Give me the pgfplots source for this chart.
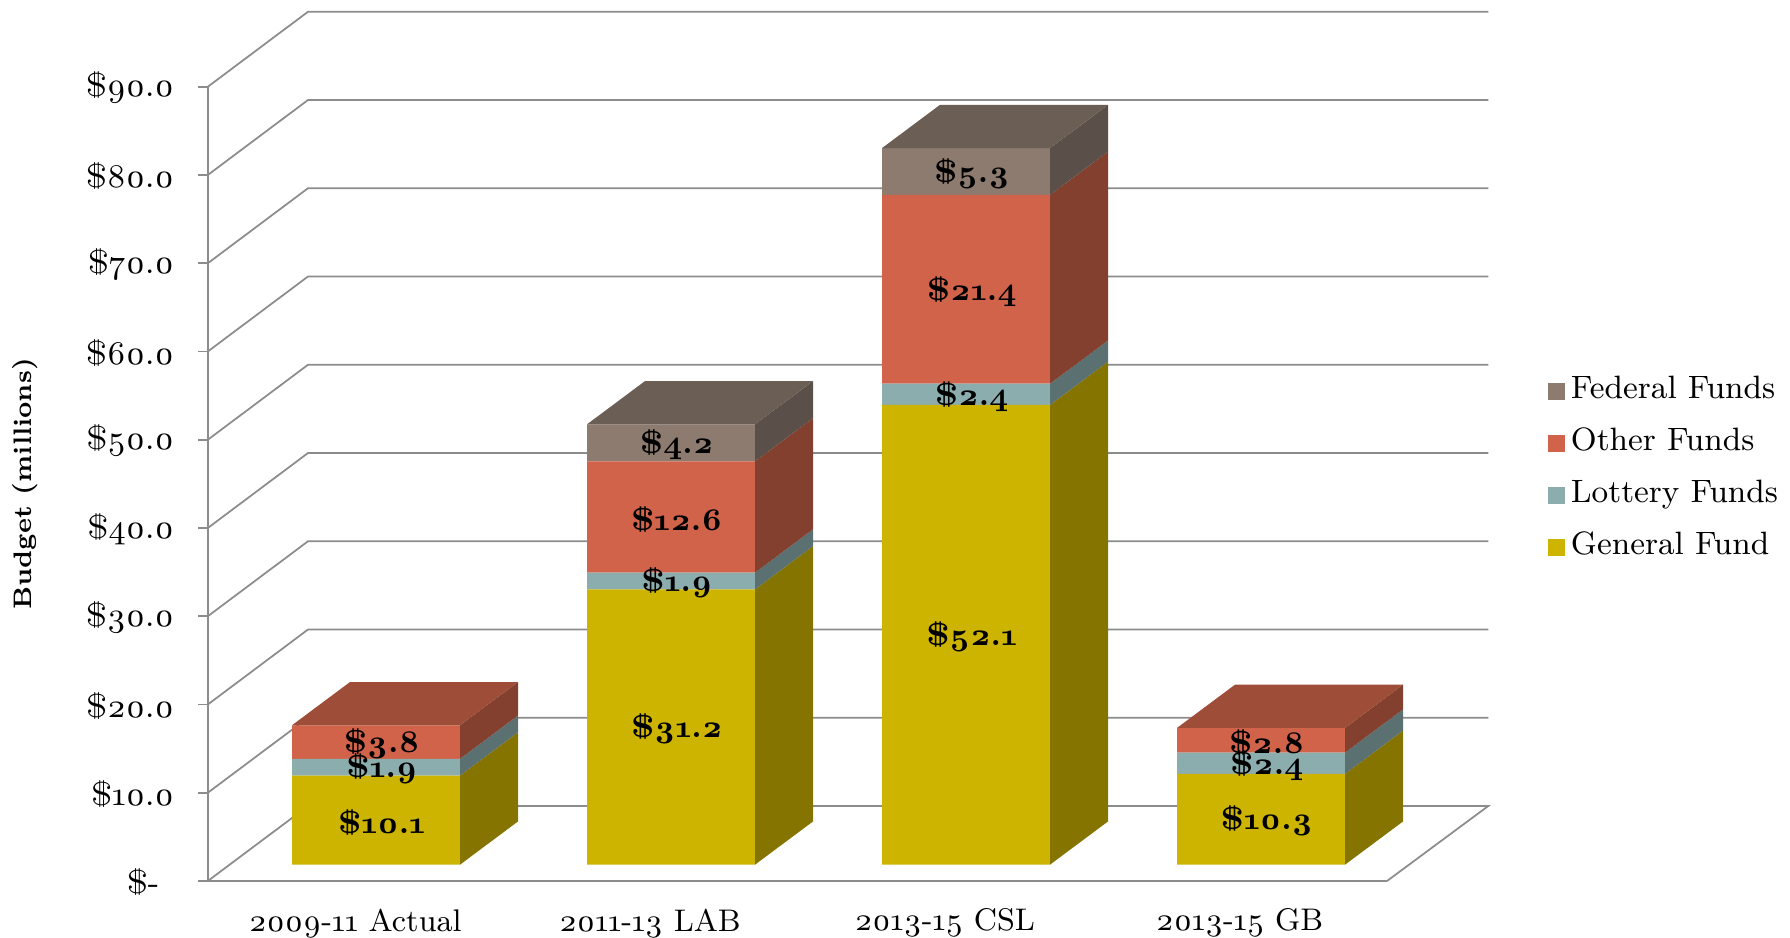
\documentclass[border=0pt]{standalone}
\usepackage{fontspec}
\setmainfont{Latin Modern Roman}[Numbers=OldStyle]
\usepackage{pgfplots}
\pgfplotsset{compat=1.18}
\definecolor{axgray}{HTML}{8C8C8C}
\definecolor{genF}{HTML}{CCB400}\definecolor{genS}{HTML}{857500}
\definecolor{lotF}{HTML}{8CADAE}\definecolor{lotS}{HTML}{5B7071}
\definecolor{othF}{HTML}{D1634A}\definecolor{othS}{HTML}{84402F}\definecolor{othT}{HTML}{9E4D38}
\definecolor{fedF}{HTML}{8C7B6E}\definecolor{fedS}{HTML}{5A5049}\definecolor{fedT}{HTML}{6B5E54}
\newcommand{\chartfont}{\fontsize{9.4}{11}\selectfont}
\newcommand{\legfont}{\fontsize{9.2}{11}\selectfont}
\newcommand{\xfont}{\fontsize{8.9}{11}\selectfont}
\newcommand{\datafont}{\fontsize{9}{11}\selectfont\bfseries}
\pgfplotsset{
  base/.style={width=117.92mm,height=79.43mm,scale only axis,clip=false,at={(0,0)},anchor=south west},
  wall/.style={axgray,line width=0.5pt,forget plot,mark=none},
  face/.style={fill=#1,draw=none,forget plot,mark=none},
  sw/.style={fill=#1,draw=none,legend image code/.code={\fill[#1] (0pt,-2.42pt) rectangle (4.84pt,2.42pt);}},
}
\begin{document}
\begin{tikzpicture}
% frame: walls, y axis, categories
\begin{axis}[base,
  xmin=-0.5,xmax=3.5,ymin=0,ymax=90,
  axis x line=bottom,axis y line=left,
  axis line style={-,axgray,line width=0.65pt},
  xtick={0,1,2,3},
  xticklabels={2009-11 Actual,2011-13 LAB,2013-15 CSL,2013-15 GB},
  ytick={0,10,20,30,40,50,60,70,80,90},
  yticklabels={\$-\rule{4.2pt}{0pt},\$10.0,\$20.0,\$30.0,\$40.0,\$50.0,\$60.0,\$70.0,\$80.0,\$90.0},
  tick align=outside,
  major tick length=2.7pt,
  xtick style={draw=none},
  ytick style={axgray,line width=0.55pt},
  tick label style={inner sep=0pt,outer sep=0pt},
  yticklabel style={font=\chartfont,xshift=-6.9pt,yshift=-0.3pt},
  xticklabel style={font=\xfont,yshift=-5.2pt},
  ylabel={\fontsize{7.2}{9}\selectfont\bfseries Budget (millions)},
  y label style={at={(axis description cs:-0.155,0.5)},anchor=center},
]
\addplot[wall] coordinates {(-0.5,0) (-0.16,8.5) (3.8436,8.5) (3.5,0)};
\addplot[wall] coordinates {(-0.5,10) (-0.16,18.5) (3.8436,18.5)};
\addplot[wall] coordinates {(-0.5,20) (-0.16,28.5) (3.8436,28.5)};
\addplot[wall] coordinates {(-0.5,30) (-0.16,38.5) (3.8436,38.5)};
\addplot[wall] coordinates {(-0.5,40) (-0.16,48.5) (3.8436,48.5)};
\addplot[wall] coordinates {(-0.5,50) (-0.16,58.5) (3.8436,58.5)};
\addplot[wall] coordinates {(-0.5,60) (-0.16,68.5) (3.8436,68.5)};
\addplot[wall] coordinates {(-0.5,70) (-0.16,78.5) (3.8436,78.5)};
\addplot[wall] coordinates {(-0.5,80) (-0.16,88.5) (3.8436,88.5)};
\addplot[wall] coordinates {(-0.5,90) (-0.16,98.5) (3.8436,98.5)};
\end{axis}
% front faces of the stacked bars, and the legend
\begin{axis}[base,hide axis,
  xmin=-0.5702,xmax=3.427,ymin=-1.85,ymax=88.15,
  ybar stacked,bar width=16.8mm,
  reverse legend,
  legend cell align=left,
  legend style={draw=none,fill=none,font=\legfont,at={(1.1365,0.6367)},anchor=north west,
    inner sep=0pt,outer sep=0pt,row sep=5.8pt,
    nodes={inner ysep=0pt,inner xsep=1.7pt,text height=6.6pt,text depth=2.4pt}},
]
\addplot[sw=genF] coordinates {(0,10.1) (1,31.2) (2,52.1) (3,10.3)};
\addlegendentry{General Fund}
\addplot[sw=lotF] coordinates {(0,1.9) (1,1.9) (2,2.4) (3,2.4)};
\addlegendentry{Lottery Funds}
\addplot[sw=othF] coordinates {(0,3.8) (1,12.6) (2,21.4) (3,2.8)};
\addlegendentry{Other Funds}
\addplot[sw=fedF] coordinates {(0,0) (1,4.2) (2,5.3) (3,0)};
\addlegendentry{Federal Funds}
\end{axis}
% side and top faces, data labels
\begin{axis}[base,hide axis,
  xmin=-0.5702,xmax=3.427,ymin=-1.85,ymax=88.15,
]
% bar 0
\addplot[face=genS] coordinates {(0.2847,0) (0.4813,4.9) (0.4813,15) (0.2847,10.1)} -- cycle;
\addplot[face=lotS] coordinates {(0.2847,10.1) (0.4813,15) (0.4813,16.9) (0.2847,12)} -- cycle;
\addplot[face=othS] coordinates {(0.2847,12) (0.4813,16.9) (0.4813,20.7) (0.2847,15.8)} -- cycle;
\addplot[face=othT] coordinates {(-0.2847,15.8) (-0.0881,20.7) (0.4813,20.7) (0.2847,15.8)} -- cycle;
% bar 1
\addplot[face=genS] coordinates {(1.2847,0) (1.4813,4.9) (1.4813,36.1) (1.2847,31.2)} -- cycle;
\addplot[face=lotS] coordinates {(1.2847,31.2) (1.4813,36.1) (1.4813,38) (1.2847,33.1)} -- cycle;
\addplot[face=othS] coordinates {(1.2847,33.1) (1.4813,38) (1.4813,50.6) (1.2847,45.7)} -- cycle;
\addplot[face=fedS] coordinates {(1.2847,45.7) (1.4813,50.6) (1.4813,54.8) (1.2847,49.9)} -- cycle;
\addplot[face=fedT] coordinates {(0.7153,49.9) (0.9119,54.8) (1.4813,54.8) (1.2847,49.9)} -- cycle;
% bar 2
\addplot[face=genS] coordinates {(2.2847,0) (2.4813,4.9) (2.4813,57) (2.2847,52.1)} -- cycle;
\addplot[face=lotS] coordinates {(2.2847,52.1) (2.4813,57) (2.4813,59.4) (2.2847,54.5)} -- cycle;
\addplot[face=othS] coordinates {(2.2847,54.5) (2.4813,59.4) (2.4813,80.8) (2.2847,75.9)} -- cycle;
\addplot[face=fedS] coordinates {(2.2847,75.9) (2.4813,80.8) (2.4813,86.1) (2.2847,81.2)} -- cycle;
\addplot[face=fedT] coordinates {(1.7153,81.2) (1.9119,86.1) (2.4813,86.1) (2.2847,81.2)} -- cycle;
% bar 3
\addplot[face=genS] coordinates {(3.2847,0) (3.4813,4.9) (3.4813,15.2) (3.2847,10.3)} -- cycle;
\addplot[face=lotS] coordinates {(3.2847,10.3) (3.4813,15.2) (3.4813,17.6) (3.2847,12.7)} -- cycle;
\addplot[face=othS] coordinates {(3.2847,12.7) (3.4813,17.6) (3.4813,20.4) (3.2847,15.5)} -- cycle;
\addplot[face=othT] coordinates {(2.7153,15.5) (2.9119,20.4) (3.4813,20.4) (3.2847,15.5)} -- cycle;
% data labels
\addplot[draw=none,mark=none,forget plot,
  point meta=explicit symbolic,
  nodes near coords={\$\pgfplotspointmeta},
  nodes near coords style={anchor=center,inner sep=0pt,font=\datafont,text=black,yshift=-0.6pt},
] table[x=x,y=y,meta=l] {
x y l
0.02 5.05 10.1
0.02 11.05 1.9
0.02 13.9 3.8
1.02 15.6 31.2
1.02 32.15 1.9
1.02 39.4 12.6
1.02 47.8 4.2
2.02 26.05 52.1
2.02 53.3 2.4
2.02 65.2 21.4
2.02 78.55 5.3
3.02 5.15 10.3
3.02 11.5 2.4
3.02 14.1 2.8
};
\end{axis}
\pgfresetboundingbox
\path[use as bounding box] (-20.78mm,-5.6mm) rectangle (158.22mm,88.1mm);
\end{tikzpicture}
\end{document}
